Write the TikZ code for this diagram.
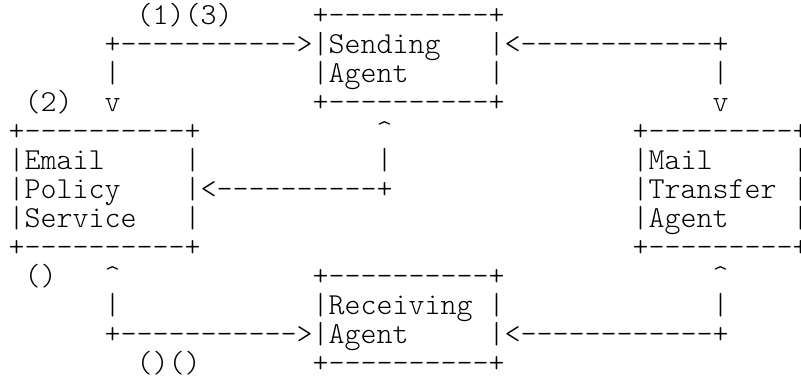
\documentclass[tikz,border=0pt]{standalone}
\usepackage{fontspec}
\newfontfamily\lmlight{Latin Modern Mono Light}
\newcommand\caretch{\textasciicircum}
\begin{document}
\begin{tikzpicture}[x=1pt,y=-1pt,
  txt/.style={anchor=base west, inner sep=0pt, outer sep=0pt,
    font=\lmlight\fontsize{30.48}{29}\selectfont}]
\useasboundingbox (0,0) rectangle (801,382);
\newcommand\asc[4]{\node[txt] (#1) at ({8.7+16*(#2)},{24.7+29*(#3)}) {#4};}
% row 0
\asc{lblA}{8}{0}{(1)(3)}
\asc{sTop}{19}{0}{+----------+}
% row 1
\asc{arrTL}{6}{1}{+----------->}
\asc{sL1}{19}{1}{|}
\asc{sT1}{20}{1}{Sending}
\asc{sR1}{30}{1}{|}
\asc{arrTR}{31}{1}{<------------+}
% row 2
\asc{vL2}{6}{2}{|}
\asc{sL2}{19}{2}{|}
\asc{sT2}{20}{2}{Agent}
\asc{sR2}{30}{2}{|}
\asc{vR2}{44}{2}{|}
% row 3
\asc{lblB}{1}{3}{(2)}
\asc{vL3}{6}{3}{v}
\asc{sBot}{19}{3}{+----------+}
\asc{vR3}{44}{3}{v}
% row 4
\asc{eTop}{0}{4}{+----------+}
\asc{uM4}{23}{4}{\caretch}
\asc{mTop}{39}{4}{+---------+}
% row 5
\asc{eL5}{0}{5}{|}
\asc{eT5}{1}{5}{Email}
\asc{eR5}{11}{5}{|}
\asc{vM5}{23}{5}{|}
\asc{mL5}{39}{5}{|}
\asc{mT5}{40}{5}{Mail}
\asc{mR5}{49}{5}{|}
% row 6
\asc{eL6}{0}{6}{|}
\asc{eT6}{1}{6}{Policy}
\asc{arrM}{11}{6}{|<----------+}
\asc{mL6}{39}{6}{|}
\asc{mT6}{40}{6}{Transfer}
\asc{mR6}{49}{6}{|}
% row 7
\asc{eL7}{0}{7}{|}
\asc{eT7}{1}{7}{Service}
\asc{eR7}{11}{7}{|}
\asc{mL7}{39}{7}{|}
\asc{mT7}{40}{7}{Agent}
\asc{mR7}{49}{7}{|}
% row 8
\asc{eBot}{0}{8}{+----------+}
\asc{mBot}{39}{8}{+---------+}
% row 9
\asc{lblC}{1}{9}{()}
\asc{uL9}{6}{9}{\caretch}
\asc{rTop}{19}{9}{+----------+}
\asc{uR9}{44}{9}{\caretch}
% row 10
\asc{vL10}{6}{10}{|}
\asc{rL10}{19}{10}{|}
\asc{rT10}{20}{10}{Receiving}
\asc{rR10}{30}{10}{|}
\asc{vR10}{44}{10}{|}
% row 11
\asc{arrBL}{6}{11}{+----------->}
\asc{rL11}{19}{11}{|}
\asc{rT11}{20}{11}{Agent}
\asc{rR11}{30}{11}{|}
\asc{arrBR}{31}{11}{<------------+}
% row 12
\asc{lblD}{8}{12}{()()}
\asc{rBot}{19}{12}{+----------+}
\end{tikzpicture}
\end{document}
